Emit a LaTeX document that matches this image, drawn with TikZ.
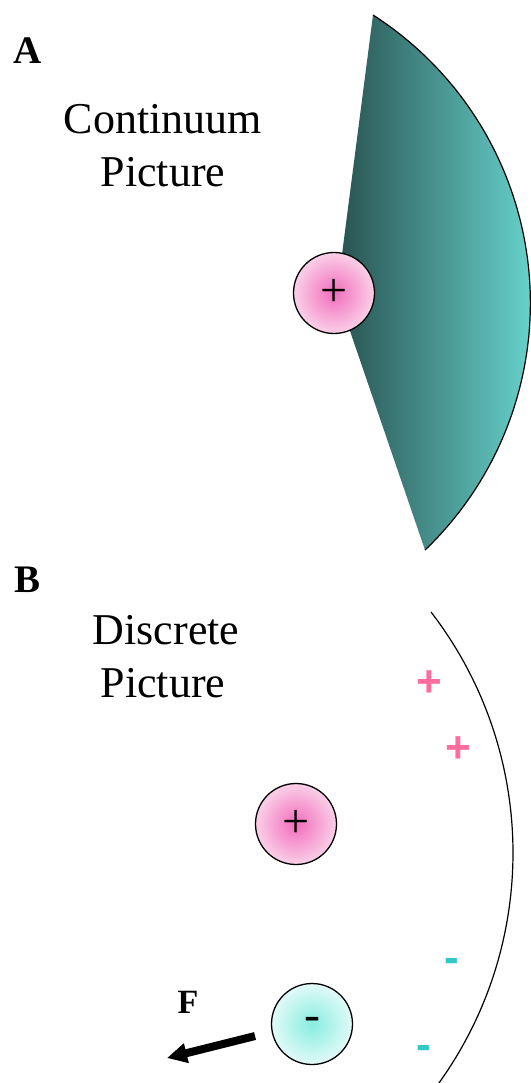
\documentclass[tikz,border=0pt]{standalone}
\usepackage{fontspec}
\setmainfont{Liberation Serif}
\newfontfamily\signfont{Liberation Sans}
\usetikzlibrary{arrows.meta}
\definecolor{tealdark}{RGB}{40,82,80}
\definecolor{teallight}{RGB}{104,212,206}
\definecolor{pinkc}{RGB}{242,108,188}
\definecolor{pinke}{RGB}{250,208,232}
\definecolor{cyanc}{RGB}{135,238,224}
\definecolor{cyane}{RGB}{226,250,248}
\definecolor{plussign}{RGB}{255,108,160}
\definecolor{minussign}{RGB}{50,200,200}
\begin{document}
\begin{tikzpicture}[x=1pt,y=-1pt,
  ion/.style={circle, draw=black, line width=1.3pt, minimum size=81pt, inner sep=0pt, font=\fontsize{48}{50}\selectfont},
  posion/.style={ion, inner color=pinkc, outer color=pinke},
  negion/.style={ion, inner color=cyanc, outer color=cyane},
  panel/.style={font=\bfseries\fontsize{39}{40}\selectfont, anchor=base, inner sep=0pt},
  caption/.style={font=\fontsize{44}{52}\selectfont, anchor=base, inner sep=0pt},
  possign/.style={font=\signfont\bfseries\fontsize{44}{44}\selectfont, text=plussign, inner sep=0pt},
  negsign/.style={font=\signfont\bfseries\fontsize{44}{44}\selectfont, text=minussign, inner sep=0pt},
  rim/.style={draw=black, line width=1.2pt},
  force/.style={line width=8pt, -{Triangle[length=20pt,width=19pt]}}
]
\useasboundingbox (0,0) rectangle (530,1083);

% ---------- Panel A ----------
\node[panel] (labA) at (28,64) {A};
\node[caption] (contA) at (163,134) {Continuum};
\node[caption] (picA) at (163,187) {Picture};

\coordinate (apex) at (337,293);
\coordinate (wtop) at (373,15);
\shade[left color=tealdark, right color=teallight]
  (apex) -- (wtop) arc[start angle=-57.3, end angle=46.2, radius=342.3] -- cycle;
\draw[rim] (wtop) arc[start angle=-57.3, end angle=46.2, radius=342.3];

\node[posion] (ionA) at (334,293) {+};

% ---------- Panel B ----------
\node[panel] (labB) at (28,592) {B};
\node[caption] (discB) at (166,644) {Discrete};
\node[caption] (picB) at (163,697) {Picture};

\coordinate (btop) at (431,612);
\draw[rim] (btop) arc[start angle=-37.6, end angle=37, radius=394.7];

\node[possign] (p1) at (429,684) {+};
\node[possign] (p2) at (458,750) {+};
\node[negsign] (m1) at (452,965) {-};
\node[negsign] (m2) at (424,1052) {-};

\node[posion] (ionB) at (296,824) {+};
\node[negion] (ionC) at (312,1024) {-};

\node[panel, font=\bfseries\fontsize{34}{36}\selectfont] (F) at (188,1013) {F};
\coordinate (fs) at (255,1036);
\coordinate (fe) at (167,1058);
\draw[force] (fs) -- (fe);
\end{tikzpicture}
\end{document}
